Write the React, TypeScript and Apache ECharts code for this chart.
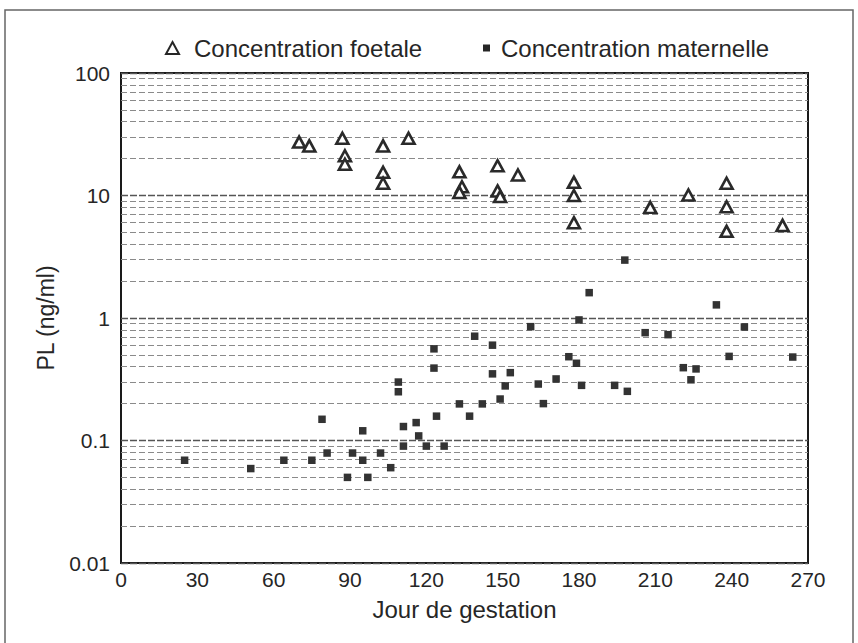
import React, { useEffect, useRef } from "react";
import * as echarts from "echarts";

// ---- data ----
const xTickInterval = 30;
const xMin = 0;
const xMax = 270;
const yMin = 0.01;
const yMax = 100;

const foetalName = "Concentration foetale";
const maternalName = "Concentration maternelle";

const foetalDays = [70, 74, 87, 88, 88, 103, 103, 103, 113, 133, 134, 133, 148, 148, 149, 156, 178, 178, 178, 208, 223, 238, 238, 238, 260];
const foetalPL = [27.3, 25.4, 29.3, 21.1, 18.0, 25.4, 15.5, 12.6, 29.3, 15.6, 11.8, 10.6, 17.5, 10.9, 9.8, 14.7, 12.8, 10.0, 6.0, 8.0, 10.1, 12.6, 8.1, 5.1, 5.7];

const maternalDays = [25, 51, 64, 75, 79, 81, 89, 91, 95, 95, 97, 102, 106, 109, 109, 111, 111, 116, 117, 120, 123, 123, 124, 127, 133, 137, 139, 142, 146, 146, 149, 151, 153, 161, 164, 166, 171, 176, 179, 180, 181, 184, 194, 198, 199, 206, 215, 221, 224, 226, 234, 239, 245, 264];
const maternalPL = [0.069, 0.059, 0.069, 0.069, 0.149, 0.079, 0.05, 0.079, 0.12, 0.069, 0.05, 0.079, 0.06, 0.3, 0.25, 0.13, 0.09, 0.14, 0.109, 0.09, 0.56, 0.39, 0.158, 0.09, 0.199, 0.158, 0.71, 0.199, 0.6, 0.35, 0.218, 0.279, 0.358, 0.85, 0.289, 0.2, 0.318, 0.483, 0.427, 0.964, 0.282, 1.61, 0.282, 2.97, 0.252, 0.759, 0.731, 0.393, 0.313, 0.384, 1.28, 0.486, 0.845, 0.48];

const decades = [0.01, 0.1, 1, 10];
const minorMultipliers = [2, 3, 4, 5, 6, 7, 8, 9];
const minorGridValues = decades.flatMap((d) => minorMultipliers.map((m) => +(d * m).toPrecision(3)));

const FONT = "'Liberation Sans', Arial, sans-serif";
const INK = "#262626";

export default function App() {
  const ref = useRef<HTMLDivElement>(null);
  useEffect(() => {
    const chart = echarts.init(ref.current!, null, { renderer: "svg" });
    chart.setOption({
      animation: false,
      backgroundColor: "#fff",
      textStyle: { fontFamily: FONT, color: INK },
      graphic: [
        {
          type: "polyline",
          silent: true,
          shape: { points: [[5, 645], [5, 10], [853, 10], [853, 645]] },
          style: { stroke: "#666", lineWidth: 1.5, fill: "none" },
        },
      ],
      grid: {
        left: 121,
        right: 50,
        top: 73,
        bottom: 80,
        show: true,
        borderColor: "#1a1a1a",
        borderWidth: 2,
        backgroundColor: "transparent",
      },
      legend: [
        {
          data: [
            {
              name: foetalName,
              icon: "triangle",
              itemStyle: { color: "#fff", borderColor: INK, borderWidth: 2 },
            },
          ],
          left: 160,
          top: 31,
          itemWidth: 13,
          itemHeight: 12,
          textStyle: { fontSize: 24, color: INK, fontFamily: FONT, padding: [0, 0, 0, 10] },
        },
        {
          data: [{ name: maternalName, icon: "rect", itemStyle: { color: INK } }],
          left: 478,
          top: 31,
          itemWidth: 7,
          itemHeight: 7,
          textStyle: { fontSize: 24, color: INK, fontFamily: FONT, padding: [0, 0, 0, 6] },
        },
      ],
      xAxis: {
        type: "value",
        min: xMin,
        max: xMax,
        interval: xTickInterval,
        name: "Jour de gestation",
        nameLocation: "middle",
        nameGap: 34,
        nameTextStyle: { fontSize: 24, color: INK, fontFamily: FONT },
        axisLine: { show: false },
        axisTick: { show: false },
        splitLine: { show: false },
        axisLabel: { fontSize: 21, color: INK, margin: 6, fontFamily: FONT },
      },
      yAxis: {
        type: "log",
        logBase: 10,
        min: yMin,
        max: yMax,
        name: "PL (ng/ml)",
        nameLocation: "middle",
        nameGap: 64,
        nameTextStyle: { fontSize: 23, color: INK, fontFamily: FONT },
        axisLine: { show: false },
        axisTick: { show: false },
        splitLine: { show: true, lineStyle: { color: "#555", type: [7, 2], width: 1.3 } },
        axisLabel: {
          fontSize: 21,
          color: INK,
          margin: 11,
          fontFamily: FONT,
          formatter: (v: number) => String(parseFloat(v.toPrecision(6))),
        },
      },
      series: [
        {
          name: "grid",
          type: "scatter",
          data: [],
          silent: true,
          z: 1,
          markLine: {
            silent: true,
            z: 1,
            symbol: ["none", "none"],
            label: { show: false },
            lineStyle: { color: "#8a8a8a", type: [6, 3], width: 1 },
            data: minorGridValues.map((v) => ({ yAxis: v })),
          },
        },
        {
          name: foetalName,
          type: "scatter",
          z: 4,
          symbol: "triangle",
          symbolSize: [12, 11],
          itemStyle: { color: "#fff", borderColor: "#2a2a2a", borderWidth: 2.6, opacity: 1 },
          data: foetalDays.map((d, i) => [d, foetalPL[i]]),
        },
        {
          name: maternalName,
          type: "scatter",
          z: 4,
          symbol: "rect",
          symbolSize: 7.5,
          itemStyle: { color: "#333", opacity: 1 },
          data: maternalDays.map((d, i) => [d, maternalPL[i]]),
        },
      ],
    });
    return () => chart.dispose();
  }, []);
  return (
    <div
      ref={ref}
      style={{ position: "absolute", left: 0, top: 0, width: 858, height: 643, background: "#fff" }}
    />
  );
}
